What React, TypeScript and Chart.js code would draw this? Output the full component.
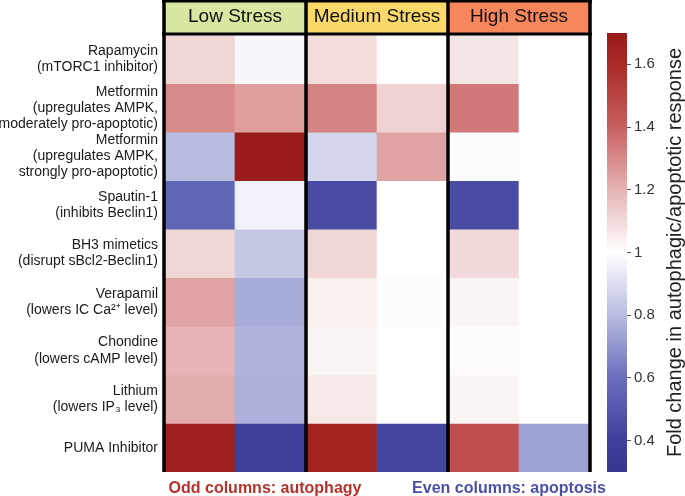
import React, { useEffect, useRef } from "react";
import { Chart, registerables } from "chart.js";

Chart.register(...registerables);

// ---------- DATA ----------
const columnLabels = [
  "Low autophagy", "Low apoptosis",
  "Medium autophagy", "Medium apoptosis",
  "High autophagy", "High apoptosis",
];
const stressGroups = ["Low Stress", "Medium Stress", "High Stress"];
const rowLabels: string[][] = [
  ["Rapamycin", "(mTORC1 inhibitor)"],
  ["Metformin", "(upregulates AMPK,", "moderately pro-apoptotic)"],
  ["Metformin", "(upregulates AMPK,", "strongly pro-apoptotic)"],
  ["Spautin-1", "(inhibits Beclin1)"],
  ["BH3 mimetics", "(disrupt sBcl2-Beclin1)"],
  ["Verapamil", "(lowers IC Ca\u00B2\u207A level)"],
  ["Chondine", "(lowers cAMP level)"],
  ["Lithium", "(lowers IP\u2083 level)"],
  ["PUMA Inhibitor"],
];
const rapamycin = [1.11, 0.98, 1.09, 1.0, 1.07, 1.0];
const metforminModerate = [1.3, 1.25, 1.32, 1.12, 1.34, 1.0];
const metforminStrong = [0.8, 1.69, 0.88, 1.24, 0.99, 1.0];
const spautin1 = [0.56, 0.96, 0.45, 1.0, 0.45, 1.0];
const bh3Mimetics = [1.11, 0.84, 1.11, 1.0, 1.1, 1.0];
const verapamil = [1.24, 0.76, 1.04, 0.99, 1.03, 1.0];
const chondine = [1.2, 0.78, 1.03, 1.0, 1.01, 1.0];
const lithium = [1.22, 0.77, 1.06, 1.0, 1.03, 1.0];
const pumaInhibitor = [1.67, 0.39, 1.64, 0.42, 1.46, 0.73];
const rowValues = [
  rapamycin, metforminModerate, metforminStrong, spautin1, bh3Mimetics,
  verapamil, chondine, lithium, pumaInhibitor,
];
const colorbarMin = 0.3;
const colorbarMax = 1.7;
const colorbarTickValues = [0.4, 0.6, 0.8, 1.0, 1.2, 1.4, 1.6];
const colorbarTickLabels = ["0.4", "0.6", "0.8", "1", "1.2", "1.4", "1.6"];
const colorbarTitle = "Fold change in autophagic/apoptotic response";
const footerLeft = "Odd columns: autophagy";
const footerRight = "Even columns: apoptosis";

// ---------- STYLE ----------
const FONT = "'Liberation Sans', Arial, Helvetica, sans-serif";
const groupColors = ["#d7e6a0", "#fad86a", "#f7865c"];
const cmapStops: [number, number[]][] = [
  [0.3, [54, 55, 143]],
  [0.4, [63, 64, 156]],
  [0.6, [106, 110, 189]],
  [0.8, [184, 188, 224]],
  [1.0, [255, 255, 255]],
  [1.2, [230, 180, 180]],
  [1.4, [200, 96, 96]],
  [1.6, [169, 42, 38]],
  [1.7, [152, 26, 26]],
];
function colorFor(v: number): string {
  if (v <= cmapStops[0][0]) return `rgb(${cmapStops[0][1].join(",")})`;
  for (let i = 1; i < cmapStops.length; i++) {
    const [v1, c1] = cmapStops[i];
    const [v0, c0] = cmapStops[i - 1];
    if (v <= v1) {
      const t = (v - v0) / (v1 - v0);
      const c = c0.map((a, k) => Math.round(a + (c1[k] - a) * t));
      return `rgb(${c.join(",")})`;
    }
  }
  return `rgb(${cmapStops[cmapStops.length - 1][1].join(",")})`;
}

const overlayPlugin = {
  id: "overlay",
  afterDraw(chart: any) {
    const { ctx, chartArea: ca } = chart;
    const w = (ca.right - ca.left) / columnLabels.length;
    ctx.save();
    stressGroups.forEach((g, i) => {
      const x0 = ca.left + 2 * i * w;
      ctx.fillStyle = groupColors[i];
      ctx.fillRect(x0, 2, 2 * w, 32);
      ctx.fillStyle = "#111";
      ctx.font = `19px ${FONT}`;
      ctx.textAlign = "center";
      ctx.textBaseline = "alphabetic";
      ctx.fillText(g, x0 + w, 22);
    });
    ctx.fillStyle = "#000";
    ctx.fillRect(ca.left - 2, 0, ca.right - ca.left + 4, 2.5);
    ctx.fillRect(ca.left - 2, 32.5, ca.right - ca.left + 4, 3);
    [0, 2, 4, 6].forEach((k) => {
      ctx.fillRect(ca.left + k * w - 1.75, 0, 3.5, ca.bottom);
    });
    ctx.font = `bold 16px ${FONT}`;
    ctx.textAlign = "center";
    ctx.fillStyle = "#b5322b";
    ctx.fillText(footerLeft, 265, 493);
    ctx.fillStyle = "#4b4fa9";
    ctx.fillText(footerRight, 509, 493);
    ctx.restore();
  },
};

const cbTitlePlugin = {
  id: "cbTitle",
  afterDraw(chart: any) {
    const { ctx, chartArea: ca } = chart;
    ctx.save();
    ctx.translate(80, (ca.top + ca.bottom) / 2);
    ctx.rotate(-Math.PI / 2);
    ctx.font = `20px ${FONT}`;
    ctx.fillStyle = "#222";
    ctx.textAlign = "center";
    ctx.textBaseline = "middle";
    ctx.fillText(colorbarTitle, 0, 0);
    ctx.restore();
  },
};

export default function App() {
  const mainRef = useRef<HTMLCanvasElement>(null);
  const cbRef = useRef<HTMLCanvasElement>(null);

  useEffect(() => {
    const datasets = rowValues.map((vals, r) => ({
      label: rowLabels[r].join(" "),
      data: vals.map(() => [r, r + 1]),
      backgroundColor: vals.map((v) => colorFor(v)),
      borderWidth: 0,
      barPercentage: 1,
      categoryPercentage: 1,
      grouped: false,
    }));
    const main = new Chart(mainRef.current as HTMLCanvasElement, {
      type: "bar",
      data: { labels: columnLabels, datasets: datasets as any },
      options: {
        animation: false,
        responsive: false,
        events: [],
        layout: { padding: { left: 0, top: 35, right: 95, bottom: 24 } },
        plugins: { legend: { display: false }, tooltip: { enabled: false } },
        scales: {
          x: { display: false, offset: true },
          y: {
            type: "linear",
            min: 0,
            max: rowLabels.length,
            reverse: true,
            grid: { display: false, drawTicks: false },
            border: { display: false },
            afterBuildTicks: (scale: any) => {
              scale.ticks = rowLabels.map((_, i) => ({ value: i + 0.5 }));
            },
            afterFit: (scale: any) => {
              scale.width = 164;
            },
            ticks: {
              autoSkip: false,
              padding: 6,
              color: "#1a1a1a",
              font: { family: FONT, size: 14, lineHeight: 1.15 },
              callback: (_v: any, i: number) => rowLabels[i],
            },
          },
        },
      } as any,
      plugins: [overlayPlugin],
    });

    const cb = new Chart(cbRef.current as HTMLCanvasElement, {
      type: "bar",
      data: {
        labels: ["scale"],
        datasets: [
          {
            data: [[colorbarMin, colorbarMax]],
            borderWidth: 0,
            barPercentage: 1,
            categoryPercentage: 1,
            backgroundColor: (c: any) => {
              const chart = c.chart;
              const ys = chart.scales?.y;
              if (!chart.chartArea || !ys) return "#fff";
              const yb = ys.getPixelForValue(colorbarMin);
              const yt = ys.getPixelForValue(colorbarMax);
              const g = chart.ctx.createLinearGradient(0, yb, 0, yt);
              cmapStops.forEach(([v]) => {
                g.addColorStop((v - colorbarMin) / (colorbarMax - colorbarMin), colorFor(v));
              });
              return g;
            },
          },
        ] as any,
      },
      options: {
        animation: false,
        responsive: false,
        events: [],
        layout: { padding: { left: 12, top: 33, right: 0, bottom: 24 } },
        plugins: { legend: { display: false }, tooltip: { enabled: false } },
        scales: {
          x: { display: false },
          y: {
            type: "linear",
            position: "right",
            min: colorbarMin,
            max: colorbarMax,
            grid: { display: true, drawOnChartArea: false, drawTicks: true, tickLength: 4, color: "#555" },
            border: { display: false },
            afterBuildTicks: (scale: any) => {
              scale.ticks = colorbarTickValues.map((v) => ({ value: v }));
            },
            afterFit: (scale: any) => {
              scale.width = 58;
            },
            ticks: {
              autoSkip: false,
              padding: 3,
              color: "#333",
              font: { family: FONT, size: 15 },
              callback: (_v: any, i: number) => colorbarTickLabels[i],
            },
          },
        },
      } as any,
      plugins: [cbTitlePlugin],
    });

    return () => {
      main.destroy();
      cb.destroy();
    };
  }, []);

  return (
    <div style={{ position: "absolute", left: 0, top: 0, width: 685, height: 496, background: "#fff" }}>
      <canvas ref={mainRef} width={685} height={496} style={{ position: "absolute", left: 0, top: 0 }} />
      <canvas ref={cbRef} width={90} height={496} style={{ position: "absolute", left: 595, top: 0 }} />
    </div>
  );
}
